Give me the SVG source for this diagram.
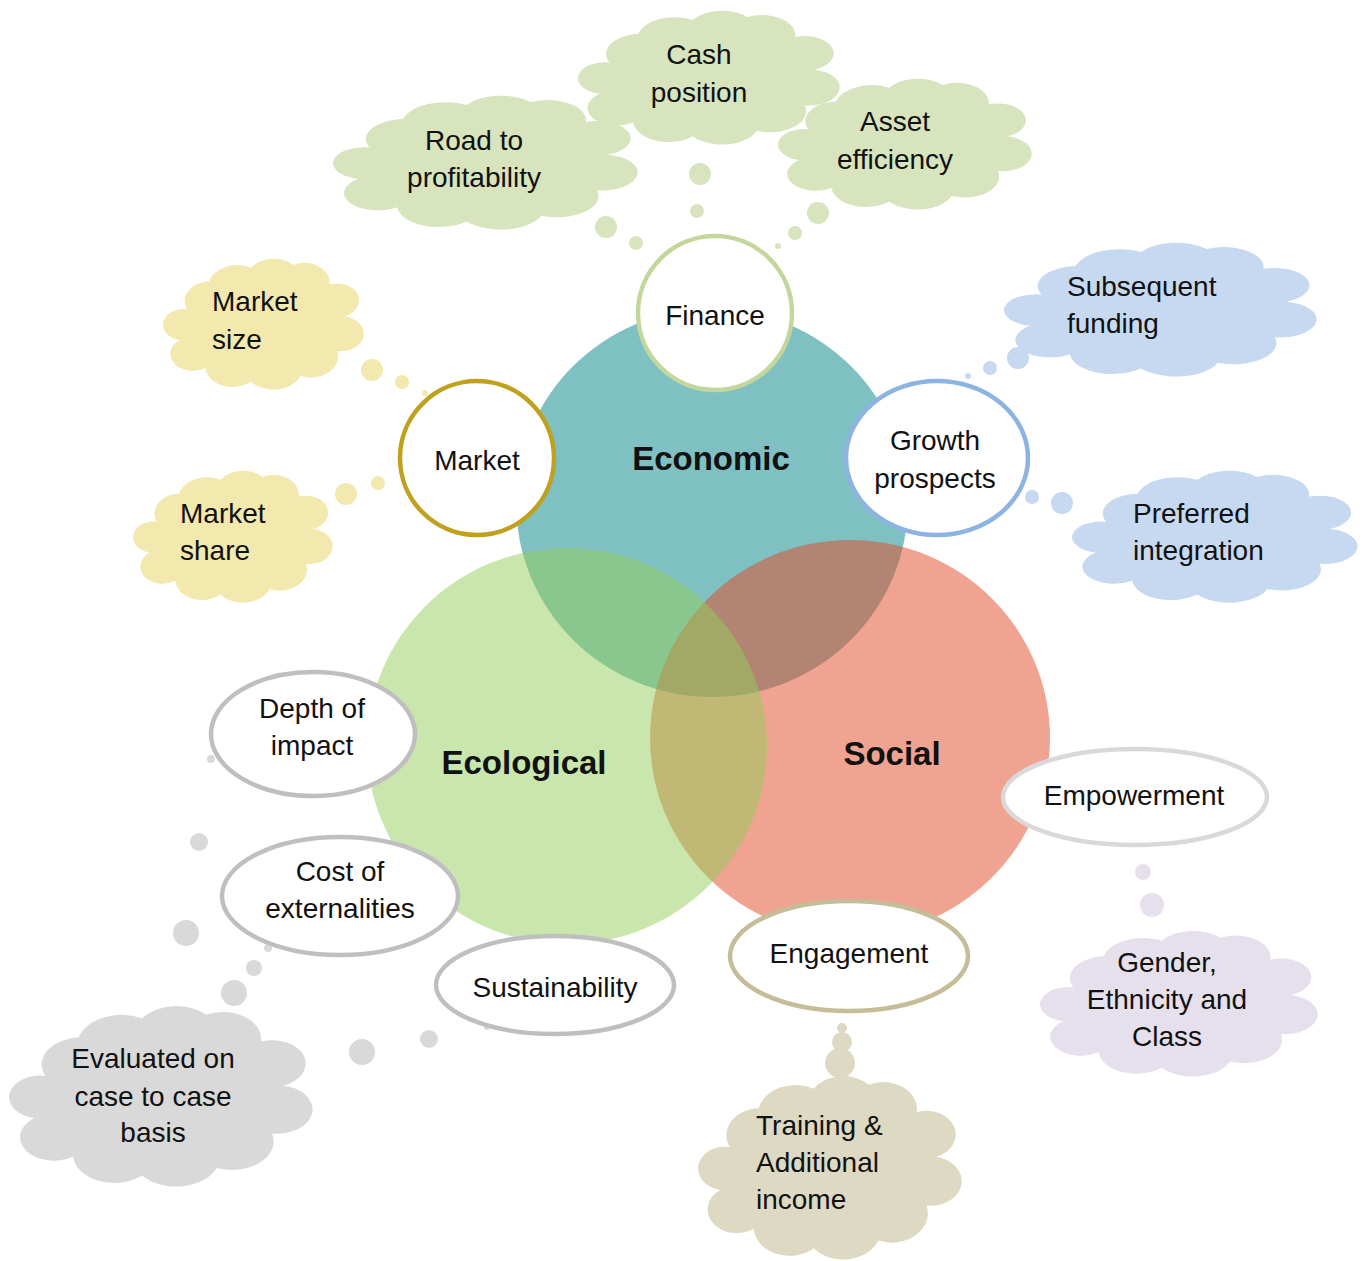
<svg xmlns="http://www.w3.org/2000/svg" width="1368" height="1261" viewBox="0 0 1368 1261">
<style>
text{font-family:"Liberation Sans",Arial,sans-serif;font-size:28px;fill:#111;}
.c{text-anchor:middle;}
.b{font-weight:bold;font-size:33px;}
.node{fill:#fff;stroke-width:4.5;}
.gr{fill:#D7E4BD;} .ye{fill:#F3E8AD;} .bl{fill:#C6D9F1;} .gy{fill:#D9D9D9;} .lv{fill:#E5E0EC;} .tn{fill:#DDD9C3;}
</style>
<defs>
<path id="cloud" d="M10,40 A14,14 0 0 1 22,20 A16,16 0 0 1 45,10 A15,15 0 0 1 68,8 A14,14 0 0 1 88,22 A12,12 0 0 1 96,45 A12,12 0 0 1 92,70 A15,15 0 0 1 72,88 A16,16 0 0 1 45,92 A15,15 0 0 1 20,82 A12,12 0 0 1 6,62 A11,11 0 0 1 10,40 Z"/>
</defs>
<rect width="1368" height="1261" fill="#fff"/>

<g id="venn">
<ellipse id="economic-circle" cx="712" cy="503" rx="196" ry="194" fill="#7FC0C3"/>
<ellipse id="social-circle" cx="850" cy="738" rx="200" ry="198" fill="#E34723" fill-opacity="0.5"/>
<ellipse id="ecological-circle" cx="567" cy="746" rx="200" ry="198" fill="#93CD59" fill-opacity="0.5"/>
<text class="c b" x="711" y="470">Economic</text>
<text class="c b" x="524" y="774">Ecological</text>
<text class="c b" x="892" y="765">Social</text>
</g>

<g id="connectors">
<circle class="gr" cx="606" cy="227" r="11"/><circle class="gr" cx="636" cy="243" r="7"/>
<circle class="gr" cx="700" cy="174" r="11"/><circle class="gr" cx="697" cy="211" r="7"/>
<circle class="gr" cx="818" cy="213" r="11"/><circle class="gr" cx="795" cy="233" r="7"/><circle class="gr" cx="778" cy="246" r="3"/>
<circle class="ye" cx="372" cy="370" r="11"/><circle class="ye" cx="402" cy="382" r="7"/><circle class="ye" cx="425" cy="393" r="3"/>
<circle class="ye" cx="346" cy="494" r="11"/><circle class="ye" cx="378" cy="483" r="7"/>
<circle class="bl" cx="1018" cy="358" r="11"/><circle class="bl" cx="990" cy="368" r="7"/><circle class="bl" cx="968" cy="376" r="3"/>
<circle class="bl" cx="1062" cy="503" r="11"/><circle class="bl" cx="1032" cy="497" r="7"/><circle class="bl" cx="1010" cy="492" r="3"/>
<circle class="gy" cx="211" cy="759" r="4"/><circle class="gy" cx="199" cy="842" r="9"/><circle class="gy" cx="186" cy="933" r="13"/>
<circle class="gy" cx="268" cy="948" r="4"/><circle class="gy" cx="254" cy="968" r="8"/><circle class="gy" cx="234" cy="993" r="13"/>
<circle class="gy" cx="362" cy="1052" r="13"/><circle class="gy" cx="429" cy="1039" r="9"/><circle class="gy" cx="487" cy="1027" r="3"/>
<circle class="lv" cx="1143" cy="872" r="8"/><circle class="lv" cx="1152" cy="905" r="12"/>
<circle class="tn" cx="842" cy="1028" r="5"/><circle class="tn" cx="842" cy="1042" r="10"/><circle class="tn" cx="840" cy="1063" r="15"/>
</g>

<g id="road-to-profitability"><use href="#cloud" class="gr" transform="translate(341.9,90.7) scale(2.773,1.421)"/>
<text class="c" x="474" y="150">Road to</text><text class="c" x="474" y="187">profitability</text></g>
<g id="cash-position"><use href="#cloud" class="gr" transform="translate(585.6,5.7) scale(2.382,1.421)"/>
<text class="c" x="699" y="64">Cash</text><text class="c" x="699" y="102">position</text></g>
<g id="asset-efficiency"><use href="#cloud" class="gr" transform="translate(785.4,73.8) scale(2.309,1.389)"/>
<text class="c" x="895" y="131">Asset</text><text class="c" x="895" y="169">efficiency</text></g>

<g id="market-size"><use href="#cloud" class="ye" transform="translate(168.8,253.8) scale(1.827,1.389)"/>
<text x="212" y="311">Market</text><text x="212" y="349">size</text></g>
<g id="market-share"><use href="#cloud" class="ye" transform="translate(138.8,465.8) scale(1.818,1.4)"/>
<text x="180" y="523">Market</text><text x="180" y="560">share</text></g>

<g id="subsequent-funding"><use href="#cloud" class="bl" transform="translate(1013.1,237.7) scale(2.845,1.421)"/>
<text x="1067" y="296">Subsequent</text><text x="1067" y="333">funding</text></g>
<g id="preferred-integration"><use href="#cloud" class="bl" transform="translate(1080.3,465.8) scale(2.6,1.4)"/>
<text x="1133" y="523">Preferred</text><text x="1133" y="560">integration</text></g>

<g id="evaluated"><use href="#cloud" class="gy" transform="translate(17.8,999.3) scale(2.764,1.916)"/>
<text class="c" x="153" y="1068">Evaluated on</text><text class="c" x="153" y="1106">case to case</text><text class="c" x="153" y="1142">basis</text></g>
<g id="gender"><use href="#cloud" class="lv" transform="translate(1048.1,925.4) scale(2.527,1.547)"/>
<text class="c" x="1167" y="972">Gender,</text><text class="c" x="1167" y="1009">Ethnicity and</text><text class="c" x="1167" y="1046">Class</text></g>
<g id="training"><use href="#cloud" class="tn" transform="translate(705.7,1069.2) scale(2.4,1.947)"/>
<text x="756" y="1135">Training &amp;</text><text x="756" y="1172">Additional</text><text x="756" y="1209">income</text></g>

<g id="finance"><circle class="node" cx="715" cy="313" r="77" stroke="#C3D69B"/><text class="c" x="715" y="325">Finance</text></g>
<g id="market"><circle class="node" cx="477" cy="458" r="77" stroke="#BFA11E"/><text class="c" x="477" y="470">Market</text></g>
<g id="growth-prospects"><ellipse class="node" cx="937" cy="458" rx="91" ry="77" stroke="#8DB3E2"/>
<text class="c" x="935" y="450">Growth</text><text class="c" x="935" y="488">prospects</text></g>
<g id="depth-of-impact"><ellipse class="node" cx="313" cy="734" rx="102" ry="62" stroke="#BFBFBF"/>
<text class="c" x="312" y="718">Depth of</text><text class="c" x="312" y="755">impact</text></g>
<g id="cost-of-externalities"><ellipse class="node" cx="340" cy="896" rx="118" ry="59" stroke="#BFBFBF"/>
<text class="c" x="340" y="881">Cost of</text><text class="c" x="340" y="918">externalities</text></g>
<g id="sustainability"><ellipse class="node" cx="555" cy="985" rx="119" ry="49" stroke="#BFBFBF"/>
<text class="c" x="555" y="997">Sustainability</text></g>
<g id="empowerment"><ellipse class="node" cx="1135" cy="797" rx="132" ry="48" stroke="#D9D9D9"/>
<text class="c" x="1134" y="805">Empowerment</text></g>
<g id="engagement"><ellipse class="node" cx="849" cy="956" rx="119" ry="55" stroke="#C4BD97"/>
<text class="c" x="849" y="963">Engagement</text></g>
</svg>
